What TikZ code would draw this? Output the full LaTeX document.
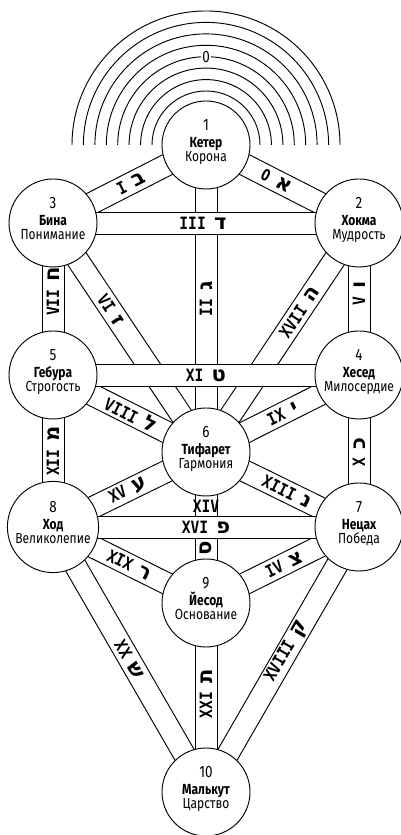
\documentclass[tikz,border=0pt]{standalone}
\usepackage{fontspec}
\setmainfont{Fira Sans}[FakeStretch=0.82]
\newfontfamily\romfont{DejaVu Sans Mono}[FakeStretch=0.86]
\newfontfamily\hebfont[Script=Hebrew]{DejaVu Sans}
\usetikzlibrary{backgrounds,calc}

\newcommand{\sefira}[3]{{\fontsize{14}{14}\selectfont #1}\\[2.5pt]{\bfseries #2}\\#3}
\newcommand{\nomer}[2]{{\romfont\bfseries #1}\hspace{7pt}{\hebfont\bfseries\fontsize{18}{18}\selectfont #2}}
% strip between two sefirot: #1,#2 nodes, #3 pos, #4 label
\newcommand{\tropa}[4]{%
  \fill[white] ($(#1.center)!3.3mm!90:(#2.center)$) -- ($(#2.center)!3.3mm!-90:(#1.center)$)
    -- ($(#2.center)!3.3mm!90:(#1.center)$) -- ($(#1.center)!3.3mm!-90:(#2.center)$) -- cycle;
  \draw[kant] ($(#1.center)!3.3mm!90:(#2.center)$) -- ($(#2.center)!3.3mm!-90:(#1.center)$);
  \draw[kant] ($(#1.center)!3.3mm!-90:(#2.center)$) -- ($(#2.center)!3.3mm!90:(#1.center)$);
  \path (#1.center) -- node[metka,pos=#3] {#4} (#2.center);}

\begin{document}
\begin{tikzpicture}[
  x=0.3mm, y=0.3mm,
  every node/.style={font=\fontsize{12.5}{12}\selectfont},
  sefira/.style={circle,draw,fill=white,line width=0.8pt,minimum size=26.4mm,
    inner sep=0pt,align=center,text depth=8pt},
  kant/.style={line width=0.8pt},
  metka/.style={sloped,inner sep=0pt,font=\fontsize{14.5}{14.5}\selectfont}
]
  \useasboundingbox (0,0) rectangle (400,835);

  \node[sefira] (keter)   at (206,690) {\sefira{1}{Кетер}{Корона}};
  \node[sefira] (hokma)   at (359,612) {\sefira{2}{Хокма}{Мудрость}};
  \node[sefira] (bina)    at (53,612)  {\sefira{3}{Бина}{Понимание}};
  \node[sefira] (hesed)   at (359,460) {\sefira{4}{Хесед}{Милосердие}};
  \node[sefira] (gebura)  at (53,460)  {\sefira{5}{Гебура}{Строгость}};
  \node[sefira] (tifaret) at (206,383) {\sefira{6}{Тифарет}{Гармония}};
  \node[sefira] (netsah)  at (359,308) {\sefira{7}{Нецах}{Победа}};
  \node[sefira] (hod)     at (53,308)  {\sefira{8}{Ход}{Великолепие}};
  \node[sefira] (iesod)   at (206,232) {\sefira{9}{Йесод}{Основание}};
  \node[sefira] (malkut)  at (206,43)  {\sefira{10}{Малькут}{Царство}};

  % Ain Soph
  \node[fill=white,inner sep=1pt,font=\fontsize{14}{14}\selectfont] (ain)
    at ([yshift=88.3*0.3mm]keter.center) {0};

  \begin{pgfonlayer}{background}
    \foreach \r in {54,65.4,76.9,88.3,99.7,111.1,122.6,134}
      \draw[kant] (keter.center) ++(\r,0)
        arc[start angle=0,end angle=180,radius=\r*0.3mm];

    \tropa{keter}{hokma}{.46}{\nomer{\normalfont\bfseries 0}{א}}
    \tropa{bina}{keter}{.51}{\nomer{I}{ב}}
    \tropa{tifaret}{keter}{.50}{\nomer{II}{ג}}
    \tropa{tifaret}{hokma}{.61}{\nomer{XVII}{ה}}
    \tropa{hesed}{hokma}{.54}{\nomer{V}{ו}}
    \tropa{bina}{tifaret}{.38}{\nomer{VI}{ז}}
    \tropa{gebura}{bina}{.55}{\nomer{VII}{ח}}
    \tropa{hod}{gebura}{.50}{\nomer{XII}{מ}}
    \tropa{tifaret}{hesed}{.50}{\nomer{IX}{י}}
    \tropa{netsah}{hesed}{.49}{\nomer{X}{כ}}
    \tropa{gebura}{tifaret}{.51}{\nomer{VIII}{ל}}
    \tropa{tifaret}{netsah}{.53}{\nomer{XIII}{נ}}
    \tropa{iesod}{tifaret}{.36}{\hebfont\bfseries\fontsize{18}{18}\selectfont ס}
    \node[inner sep=0pt,font=\fontsize{14.5}{14.5}\selectfont] (xiv)
      at ($(iesod.center)!.64!(tifaret.center)$) {\romfont\bfseries XIV};
    \tropa{hod}{tifaret}{.49}{\nomer{XV}{ע}}
    \tropa{iesod}{netsah}{.51}{\nomer{IV}{צ}}
    \tropa{malkut}{netsah}{.53}{\nomer{XVIII}{ק}}
    \tropa{hod}{iesod}{.50}{\nomer{XIX}{ר}}
    \tropa{hod}{malkut}{.50}{\nomer{XX}{ש}}
    \tropa{malkut}{iesod}{.52}{\nomer{XXI}{ת}}

    % horizontal paths on top
    \tropa{bina}{hokma}{.49}{\nomer{III}{ד}}
    \tropa{gebura}{hesed}{.50}{\nomer{XI}{ט}}
    \tropa{hod}{netsah}{.50}{\nomer{XVI}{פ}}
  \end{pgfonlayer}
\end{tikzpicture}
\end{document}
